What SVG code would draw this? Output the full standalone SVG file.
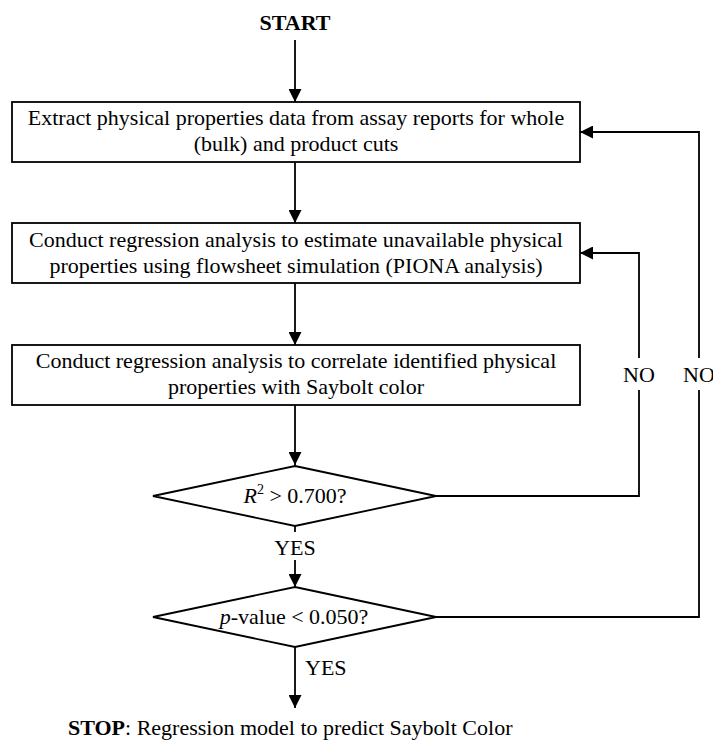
<svg xmlns="http://www.w3.org/2000/svg" width="713" height="740" viewBox="0 0 713 740">
<style>
text{font-family:"Liberation Serif","Times New Roman",serif;font-size:22px;fill:#000}
.c{text-anchor:middle}
.b{font-weight:bold}
.shape{fill:#fff;stroke:#000;stroke-width:1.8}
.ln{fill:none;stroke:#000;stroke-width:1.8}
</style>
<defs>
<marker id="ah" viewBox="0 0 13 13" refX="13" refY="6.5" markerWidth="13" markerHeight="13" markerUnits="userSpaceOnUse" orient="auto">
<path d="M0,0 L13,6.5 L0,13 Z" fill="#000"/>
</marker>
</defs>
<rect width="713" height="740" fill="#fff"/>
<g id="connectors">
<line class="ln" x1="295" y1="40" x2="295" y2="102" marker-end="url(#ah)"/>
<line class="ln" x1="295" y1="162" x2="295" y2="223" marker-end="url(#ah)"/>
<line class="ln" x1="295" y1="283" x2="295" y2="345" marker-end="url(#ah)"/>
<line class="ln" x1="295" y1="405" x2="295" y2="465" marker-end="url(#ah)"/>
<line class="ln" x1="295" y1="526" x2="295" y2="532"/>
<line class="ln" x1="295" y1="560" x2="295" y2="587" marker-end="url(#ah)"/>
<line class="ln" x1="295" y1="647" x2="295" y2="708" marker-end="url(#ah)"/>
<polyline class="ln" points="436,496 639,496 639,390"/>
<polyline class="ln" points="639,358 639,253 580,253" marker-end="url(#ah)"/>
<polyline class="ln" points="436,617 699,617 699,390"/>
<polyline class="ln" points="699,358 699,132 580,132" marker-end="url(#ah)"/>
<text class="c" x="639" y="382">NO</text>
<text class="c" x="699" y="382">NO</text>
<text class="c" x="295" y="555">YES</text>
<text x="305" y="675">YES</text>
</g>
<g id="start"><text class="c b" x="295" y="30">START</text></g>
<g id="box1">
<rect class="shape" x="12" y="102" width="568" height="60"/>
<text class="c" x="296" y="125">Extract physical properties data from assay reports for whole</text>
<text class="c" x="296" y="151">(bulk) and product cuts</text>
</g>
<g id="box2">
<rect class="shape" x="12" y="223" width="568" height="60"/>
<text class="c" x="296" y="247">Conduct regression analysis to estimate unavailable physical</text>
<text class="c" x="296" y="273">properties using flowsheet simulation (PIONA analysis)</text>
</g>
<g id="box3">
<rect class="shape" x="12" y="345" width="568" height="60"/>
<text class="c" x="296" y="368">Conduct regression analysis to correlate identified physical</text>
<text class="c" x="296" y="394">properties with Saybolt color</text>
</g>
<g id="decision1">
<polygon class="shape" points="295,466 436,496 295,526 153,496"/>
<text class="c" x="295" y="503"><tspan font-style="italic">R</tspan><tspan font-size="14" dy="-9">2</tspan><tspan dy="9"> &gt; 0.700?</tspan></text>
</g>
<g id="decision2">
<polygon class="shape" points="295,587 436,617 295,647 153,617"/>
<text class="c" x="294" y="624"><tspan font-style="italic">p</tspan>-value &lt; 0.050?</text>
</g>
<g id="stop">
<text x="68" y="735"><tspan class="b">STOP</tspan>: Regression model to predict Saybolt Color</text>
</g>
</svg>
